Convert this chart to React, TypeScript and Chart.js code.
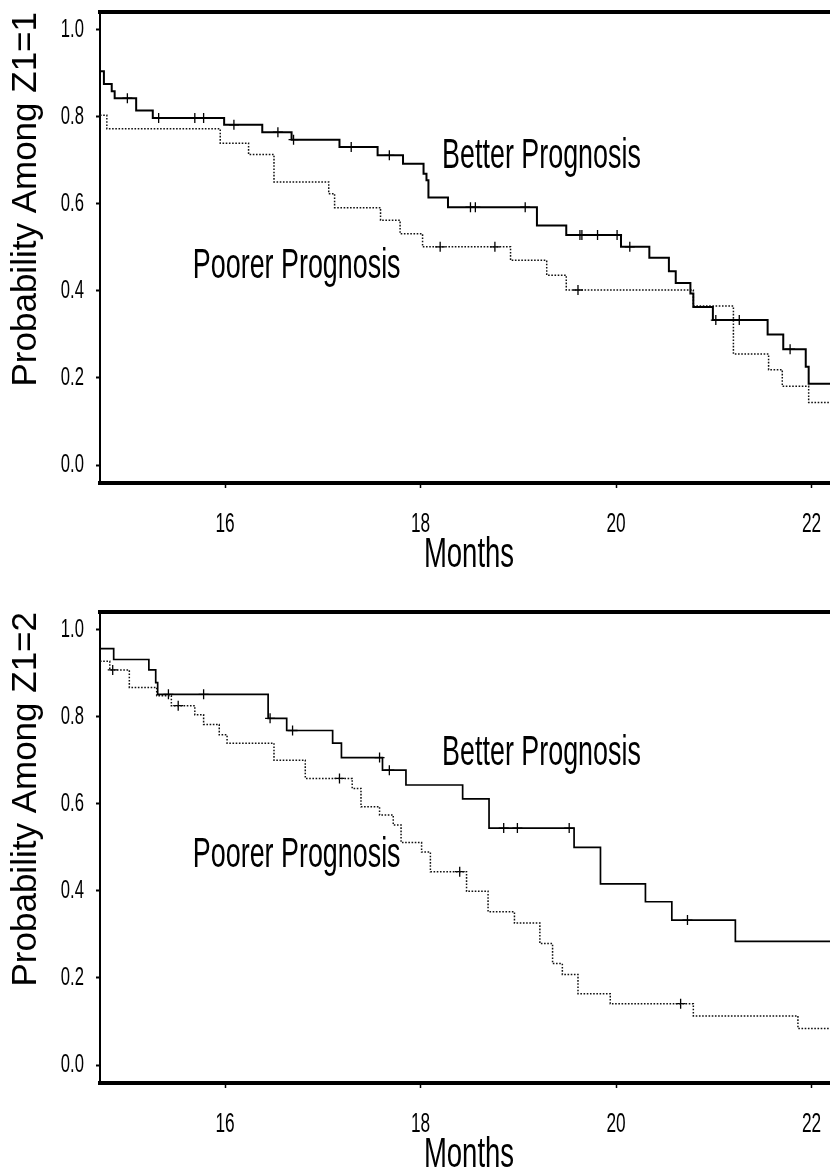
import React, { useEffect, useRef } from 'react';
import { Chart, registerables, LinearScale } from 'chart.js';

Chart.register(...registerables);

// ---------- axis ticks ----------
const xTickValues = [16, 18, 20, 22];
const xTickLabels = ['16', '18', '20', '22'];
const yTickValues = [0, 0.2, 0.4, 0.6, 0.8, 1.0];
const yTickLabels = ['0.0', '0.2', '0.4', '0.6', '0.8', '1.0'];
const X_MIN = 14.72;
const X_MAX = 22.27;
const Y_MIN = -0.041;
const Y_MAX = 1.04;

// ---------- panel 1 (Z1=1) ----------
const z1BetterMonths = [14.72, 14.76, 14.84, 14.87, 15.09, 15.26, 15.99, 16.38, 16.68, 17.17, 17.56, 17.82, 18.03, 18.06, 18.08, 18.28, 19.19, 19.49, 20.05, 20.34, 20.54, 20.61, 20.76, 20.79, 20.99, 21.55, 21.71, 21.94, 21.97, 22.27];
const z1BetterSurvival = [0.904, 0.875, 0.858, 0.842, 0.814, 0.797, 0.781, 0.764, 0.747, 0.730, 0.711, 0.692, 0.669, 0.654, 0.614, 0.592, 0.550, 0.528, 0.501, 0.476, 0.445, 0.418, 0.394, 0.363, 0.333, 0.300, 0.266, 0.226, 0.187, 0.187];
const z1PoorerMonths = [14.72, 14.79, 15.95, 16.24, 16.50, 17.06, 17.12, 17.59, 17.79, 18.02, 18.92, 19.29, 19.49, 20.79, 21.20, 21.56, 21.70, 21.97, 22.27];
const z1PoorerSurvival = [0.803, 0.772, 0.739, 0.713, 0.650, 0.623, 0.591, 0.562, 0.531, 0.501, 0.470, 0.436, 0.402, 0.365, 0.255, 0.219, 0.181, 0.144, 0.144];
const z1BetterCensorMonths = [15.00, 15.32, 15.69, 15.78, 16.09, 16.54, 16.70, 17.29, 17.68, 18.51, 18.56, 19.07, 19.63, 19.65, 19.81, 20.01, 20.14, 21.02, 21.26, 21.78];
const z1BetterCensorSurvival = [0.842, 0.797, 0.797, 0.797, 0.781, 0.764, 0.747, 0.730, 0.711, 0.592, 0.592, 0.592, 0.528, 0.528, 0.528, 0.528, 0.501, 0.333, 0.333, 0.266];
const z1PoorerCensorMonths = [18.20, 18.76, 19.61];
const z1PoorerCensorSurvival = [0.501, 0.501, 0.402];

// ---------- panel 2 (Z1=2) ----------
const z2BetterMonths = [14.72, 14.86, 15.22, 15.29, 15.31, 16.44, 16.63, 17.10, 17.19, 17.61, 17.85, 18.43, 18.70, 19.57, 19.84, 20.30, 20.57, 21.22, 22.27];
const z2BetterSurvival = [0.956, 0.931, 0.907, 0.878, 0.851, 0.796, 0.768, 0.739, 0.706, 0.677, 0.643, 0.611, 0.544, 0.500, 0.416, 0.375, 0.333, 0.284, 0.284];
const z2PoorerMonths = [14.72, 14.82, 15.02, 15.30, 15.45, 15.69, 15.78, 15.94, 16.02, 16.50, 16.82, 17.30, 17.39, 17.58, 17.72, 17.80, 18.01, 18.10, 18.47, 18.69, 18.96, 19.22, 19.35, 19.45, 19.61, 19.94, 20.79, 21.86, 22.27];
const z2PoorerSurvival = [0.927, 0.907, 0.867, 0.848, 0.825, 0.804, 0.782, 0.758, 0.739, 0.700, 0.658, 0.635, 0.593, 0.574, 0.551, 0.511, 0.489, 0.444, 0.399, 0.352, 0.326, 0.279, 0.233, 0.208, 0.164, 0.141, 0.113, 0.084, 0.084];
const z2BetterCensorMonths = [15.42, 15.78, 16.46, 16.69, 17.58, 17.68, 18.85, 18.99, 19.52, 20.73];
const z2BetterCensorSurvival = [0.851, 0.851, 0.796, 0.768, 0.706, 0.677, 0.544, 0.544, 0.544, 0.333];
const z2PoorerCensorMonths = [14.85, 15.52, 17.17, 18.40, 20.66];
const z2PoorerCensorSurvival = [0.907, 0.825, 0.658, 0.444, 0.141];

// ---------- text ----------
const xTitle = 'Months';
const yTitles = ['Probability Among Z1=1', 'Probability Among Z1=2'];
const betterLabel = 'Better Prognosis';
const poorerLabel = 'Poorer Prognosis';

const FONT = "'Liberation Sans', Arial, Helvetica, sans-serif";
const SX = 0.64; // horizontal condensing of the narrow lettering

function narrowText(ctx: any, sx: number, draw: () => void) {
  const native = ctx.fillText;
  ctx.fillText = function (text: string, x: number, y: number) {
    this.save();
    this.translate(x, y);
    this.scale(sx, 1);
    native.call(this, text, 0, 0);
    this.restore();
  };
  try {
    draw();
  } finally {
    delete ctx.fillText;
  }
}

class NarrowLinearScale extends LinearScale {
  static id = 'narrowLinear';
  drawLabels(area: any) {
    narrowText(this.ctx, SX, () => super.drawLabels(area));
  }
  drawTitle() {
    if (this.isHorizontal()) narrowText(this.ctx, SX, () => super.drawTitle());
    else super.drawTitle();
  }
}
Chart.register(NarrowLinearScale as any);

const toPoints = (xs: number[], ys: number[]) => xs.map((x, i) => ({ x, y: ys[i] }));

type Panel = {
  yTitle: string;
  betterM: number[]; betterS: number[];
  poorerM: number[]; poorerS: number[];
  betterCM: number[]; betterCS: number[];
  poorerCM: number[]; poorerCS: number[];
  solidWidth: number;
  labels: { text: string; x: number; y: number }[];
};

const panels: Panel[] = [
  {
    yTitle: yTitles[0],
    betterM: z1BetterMonths, betterS: z1BetterSurvival,
    poorerM: z1PoorerMonths, poorerS: z1PoorerSurvival,
    betterCM: z1BetterCensorMonths, betterCS: z1BetterCensorSurvival,
    poorerCM: z1PoorerCensorMonths, poorerCS: z1PoorerCensorSurvival,
    solidWidth: 2,
    labels: [
      { text: betterLabel, x: 18.22, y: 0.683 },
      { text: poorerLabel, x: 15.67, y: 0.429 },
    ],
  },
  {
    yTitle: yTitles[1],
    betterM: z2BetterMonths, betterS: z2BetterSurvival,
    poorerM: z2PoorerMonths, poorerS: z2PoorerSurvival,
    betterCM: z2BetterCensorMonths, betterCS: z2BetterCensorSurvival,
    poorerCM: z2PoorerCensorMonths, poorerCS: z2PoorerCensorSurvival,
    solidWidth: 1.7,
    labels: [
      { text: betterLabel, x: 18.22, y: 0.688 },
      { text: poorerLabel, x: 15.67, y: 0.455 },
    ],
  },
];

function labelPlugin(items: { text: string; x: number; y: number }[]) {
  return {
    id: 'curveLabels',
    afterDatasetsDraw(chart: any) {
      const ctx = chart.ctx;
      const xs = chart.scales.x;
      const ys = chart.scales.y;
      ctx.save();
      ctx.font = `42px ${FONT}`;
      ctx.fillStyle = '#000';
      ctx.textAlign = 'left';
      ctx.textBaseline = 'alphabetic';
      for (const it of items) {
        const px = xs.getPixelForValue(it.x);
        const py = ys.getPixelForValue(it.y);
        ctx.save();
        ctx.translate(px, py);
        ctx.scale(SX, 1);
        ctx.fillText(it.text, 0, 0);
        ctx.restore();
      }
      ctx.restore();
    },
  };
}

function makeConfig(p: Panel): any {
  return {
    type: 'line',
    data: {
      datasets: [
        {
          type: 'line', label: betterLabel, data: toPoints(p.betterM, p.betterS),
          borderColor: '#000', borderWidth: p.solidWidth, stepped: true,
          pointRadius: 0, fill: false, xAxisID: 'x', yAxisID: 'y',
        },
        {
          type: 'line', label: poorerLabel, data: toPoints(p.poorerM, p.poorerS),
          borderColor: '#111', borderWidth: 1.5, borderDash: [1.6, 1.6], stepped: true,
          pointRadius: 0, fill: false, xAxisID: 'x', yAxisID: 'y',
        },
        {
          type: 'scatter', label: betterLabel + ' censored', data: toPoints(p.betterCM, p.betterCS),
          pointStyle: 'cross', pointRadius: 5, borderColor: '#000', borderWidth: 1.3,
          pointBorderWidth: 1.3, showLine: false, xAxisID: 'x', yAxisID: 'y',
        },
        {
          type: 'scatter', label: poorerLabel + ' censored', data: toPoints(p.poorerCM, p.poorerCS),
          pointStyle: 'cross', pointRadius: 5, borderColor: '#000', borderWidth: 1.3,
          pointBorderWidth: 1.3, showLine: false, xAxisID: 'x', yAxisID: 'y',
        },
      ],
    },
    options: {
      responsive: false,
      maintainAspectRatio: false,
      animation: false,
      events: [],
      layout: { padding: { left: 0, right: 12, top: 0, bottom: 0 } },
      plugins: { legend: { display: false }, tooltip: { enabled: false } },
      scales: {
        x: {
          type: 'narrowLinear', position: 'bottom', min: X_MIN, max: X_MAX, bounds: 'data',
          afterBuildTicks: (s: any) => { s.ticks = xTickValues.map((v) => ({ value: v })); },
          afterFit: (s: any) => { s.height = 117; s.paddingLeft = 0; s.paddingRight = 0; },
          ticks: {
            callback: (_v: any, i: number) => xTickLabels[i],
            font: { family: FONT, size: 27, lineHeight: 1 }, color: '#000',
            padding: 23, maxRotation: 0, autoSkip: false,
          },
          grid: { display: true, drawOnChartArea: false, drawTicks: true, tickLength: 5, tickWidth: 1.5, tickColor: '#000' },
          border: { display: true, color: '#000', width: 4 },
          title: {
            display: true, text: xTitle, color: '#000',
            font: { family: FONT, size: 43, lineHeight: 1 },
            padding: { top: 0, bottom: 23 },
          },
        },
        x2: {
          type: 'linear', position: 'top', min: 0, max: 1,
          ticks: { display: false }, grid: { display: false },
          border: { display: true, color: '#000', width: 4 },
          afterFit: (s: any) => { s.height = 12; s.paddingLeft = 0; s.paddingRight = 0; },
        },
        y: {
          type: 'narrowLinear', position: 'left', min: Y_MIN, max: Y_MAX, bounds: 'data',
          afterBuildTicks: (s: any) => { s.ticks = yTickValues.map((v) => ({ value: v })); },
          afterFit: (s: any) => { s.width = 100; s.paddingTop = 0; s.paddingBottom = 0; },
          ticks: {
            callback: (_v: any, i: number) => yTickLabels[i],
            font: { family: FONT, size: 26, lineHeight: 1 }, color: '#000', padding: 12,
          },
          grid: { display: true, drawOnChartArea: false, drawTicks: true, tickLength: 4, tickWidth: 2, tickColor: '#000' },
          border: { display: true, color: '#000', width: 2 },
          title: {
            display: true, text: p.yTitle, align: 'end', color: '#000',
            font: { family: FONT, size: 35, lineHeight: 1 },
            padding: { top: 9, bottom: 0 },
          },
        },
      },
    },
    plugins: [labelPlugin(p.labels)],
  };
}

function KMPanel({ panel, top }: { panel: Panel; top: number }) {
  const ref = useRef<HTMLCanvasElement | null>(null);
  useEffect(() => {
    if (!ref.current) return;
    const chart = new Chart(ref.current, makeConfig(panel));
    return () => chart.destroy();
  }, [panel]);
  return (
    <canvas
      ref={ref}
      width={850}
      height={600}
      style={{ position: 'absolute', left: 0, top, width: 850, height: 600 }}
    />
  );
}

export default function App() {
  return (
    <div
      style={{
        position: 'absolute', left: 0, top: 0, width: 830, height: 1176,
        overflow: 'hidden', background: '#fff',
      }}
    >
      <KMPanel panel={panels[0]} top={0} />
      <KMPanel panel={panels[1]} top={600} />
    </div>
  );
}
